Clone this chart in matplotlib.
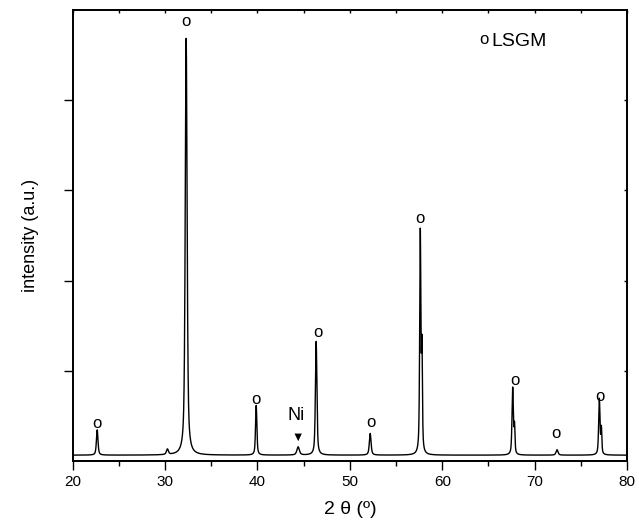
import numpy as np
import matplotlib; matplotlib.use("Agg"); import matplotlib.pyplot as plt

plt.rcParams['font.family'] = ['Liberation Sans', 'DejaVu Sans']

# peaks: position (2theta), height above background (a.u.), FWHM (deg)
peak_pos = [22.65, 30.25, 32.28, 39.86, 44.40, 46.35, 52.20, 57.62, 57.80, 67.62, 67.82, 72.42, 77.00, 77.22]
peak_hgt = [0.28, 0.06, 4.62, 0.55, 0.09, 1.26, 0.24, 2.45, 1.10, 0.74, 0.30, 0.06, 0.62, 0.28]
peak_fwhm = [0.20, 0.25, 0.24, 0.17, 0.32, 0.19, 0.22, 0.15, 0.12, 0.17, 0.12, 0.25, 0.17, 0.12]
background = 0.065

# "o" marks for LSGM reflections (label positions, data coords)
lsgm_x = [22.6, 32.3, 39.8, 46.5, 52.3, 57.6, 67.9, 72.3, 77.1]
lsgm_y = [0.42, 4.87, 0.68, 1.43, 0.43, 2.69, 0.89, 0.30, 0.71]
ni_x, ni_y = 44.3, 0.255

tt = np.arange(20, 80.001, 0.01)
def pv(x, x0, w, eta=0.6):
    g = np.exp(-4*np.log(2)*((x-x0)/w)**2)
    l = 1/(1+4*((x-x0)/w)**2)
    return eta*l + (1-eta)*g
inten = np.full_like(tt, background)
for p, h, w in zip(peak_pos, peak_hgt, peak_fwhm):
    inten += h*pv(tt, p, w)

fig = plt.figure(figsize=(6.39, 5.29), dpi=100)
ax = fig.add_axes([0.1138, 0.1285, 0.8675, 0.8526])
ax.plot(tt, inten, color='black', lw=1.0)
ax.set_xlim(20, 80); ax.set_ylim(0, 5)
ax.set_xticks(range(20, 81, 10)); ax.set_xticks(range(25, 80, 10), minor=True)
ax.set_yticks([1, 2, 3, 4]); ax.set_yticklabels([])
ax.tick_params(axis='both', which='major', direction='out', length=6.5, width=1.0, labelsize=11, top=False, right=False)
ax.tick_params(axis='x', which='minor', direction='out', length=3.5, width=1.0, top=False)
ax2 = ax.twinx(); ax2.set_ylim(0, 5); ax2.set_yticks([1, 2, 3, 4]); ax2.set_yticklabels([])
ax2.tick_params(axis='y', direction='in', length=2, width=1.0)
ax3 = ax.twiny(); ax3.set_xlim(20, 80); ax3.set_xticks(range(20, 81, 5)); ax3.set_xticklabels([])
ax3.tick_params(axis='x', direction='in', length=2, width=1.0)
for a in (ax, ax2, ax3):
    for s in a.spines.values(): s.set_linewidth(1.1)

for x, y in zip(lsgm_x, lsgm_y):
    ax.text(x, y, 'o', fontsize=12, ha='center', va='center')
ax.text(ni_x, ni_y, '\u25BC', fontsize=9, ha='center', va='center')
ax.text(ni_x - 0.1, 0.50, 'Ni', fontsize=13, ha='center', va='center')
ax.text(64.5, 4.67, 'o', fontsize=12, ha='center', va='center')
ax.text(65.3, 4.65, 'LSGM', fontsize=14, ha='left', va='center')

ax.set_xlabel('2 \u03b8 (\u00ba)', fontsize=14, labelpad=9)
ax.set_ylabel('intensity (a.u.)', fontsize=13, labelpad=14)
fig.savefig('out.png', dpi=100)
